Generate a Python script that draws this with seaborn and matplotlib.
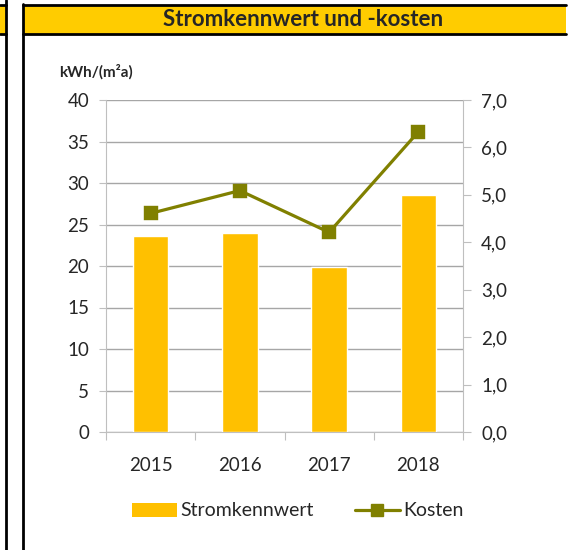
import numpy as np
import pandas as pd
import matplotlib
matplotlib.use("Agg")
import matplotlib.pyplot as plt
import seaborn as sns
from matplotlib.patches import Rectangle, Patch
from matplotlib.lines import Line2D
from matplotlib.ticker import FuncFormatter, MultipleLocator

years = ["2015", "2016", "2017", "2018"]
stromkennwert = [23.6, 24.0, 19.9, 28.5]   # kWh/(m²a)
kosten = [4.61, 5.09, 4.21, 6.33]

title = "Stromkennwert und -kosten"
unit_label = "kWh/(m²a)"

bar_col = "#FFC000"
line_col = "#808000"
grid_col = "#A6A6A6"
axis_col = "#BFBFBF"

sns.set_style("white")
plt.rcParams["font.family"] = ["Lato", "DejaVu Sans"]

W, H = 568, 550
fig = plt.figure(figsize=(W / 100, H / 100), dpi=100)

# frame pieces (pixel coords -> figure fraction)
def fx(px):
    return px / W

def fy(py):
    return 1 - py / H

# left neighbour panel strip
fig.patches.append(Rectangle((0, fy(34)), fx(6), fy(5) - fy(34), transform=fig.transFigure,
                             facecolor="#FFCC00", edgecolor="none"))
# main header
fig.patches.append(Rectangle((fx(23), fy(34)), fx(566) - fx(23), fy(5) - fy(34), transform=fig.transFigure,
                             facecolor="#FFCC00", edgecolor="none"))
for y in (5, 34):
    fig.lines.append(Line2D([0, fx(6)], [fy(y), fy(y)], transform=fig.transFigure, color="black", lw=2))
    fig.lines.append(Line2D([fx(23), fx(566)], [fy(y), fy(y)], transform=fig.transFigure, color="black", lw=2))
fig.lines.append(Line2D([fx(6), fx(6)], [0, 1], transform=fig.transFigure, color="black", lw=2))
fig.lines.append(Line2D([fx(23), fx(23)], [0, fy(4)], transform=fig.transFigure, color="black", lw=2))

fig.text(fx(303), fy(19.5), title, ha="center", va="center", fontsize=16, fontweight="bold")
fig.text(fx(59), fy(72), unit_label, ha="left", va="center", fontsize=11, fontweight="bold")

ax = fig.add_axes([fx(106), fy(432), fx(463) - fx(106), fy(100) - fy(432)])
df = pd.DataFrame({"Jahr": years, "Stromkennwert": stromkennwert, "Kosten": kosten})

sns.barplot(data=df, x="Jahr", y="Stromkennwert", ax=ax, color=bar_col, width=0.4,
            saturation=1, zorder=3)
ax.set_ylim(0, 40)
ax.yaxis.set_major_locator(MultipleLocator(5))
ax.set_xlim(-0.5, 3.5)
ax.grid(axis="y", color=grid_col, lw=1, zorder=0)
ax.set_axisbelow(True)
ax.set_xlabel("")
ax.set_ylabel("")

ax2 = ax.twinx()
sns.pointplot(data=df, x="Jahr", y="Kosten", ax=ax2, color=line_col, markers="s",
              linestyles="-", markersize=8, linewidth=2.3)
ax2.set_ylim(0, 7)
ax2.yaxis.set_major_locator(MultipleLocator(1))
ax2.yaxis.set_major_formatter(FuncFormatter(lambda v, p: f"{v:.1f}".replace(".", ",")))
ax2.set_xlim(-0.5, 3.5)
ax2.set_ylabel("")
ax2.set_xlabel("")

for a in (ax, ax2):
    for s in a.spines.values():
        s.set_visible(False)
ax.spines["left"].set_visible(True)
ax.spines["left"].set_color(axis_col)
ax.spines["bottom"].set_visible(True)
ax.spines["bottom"].set_color(axis_col)
ax2.spines["right"].set_visible(True)
ax2.spines["right"].set_color(axis_col)

ax.tick_params(axis="y", length=5, color=axis_col, labelsize=13.5, pad=7, left=True)
ax2.tick_params(axis="y", length=6, color=axis_col, labelsize=13.5, pad=7, right=True)
# x ticks at category boundaries, labels centred
ax.set_xticks(np.arange(len(years) + 1) - 0.5)
ax.set_xticklabels([])
ax.set_xticks(np.arange(len(years)), minor=True)
ax.set_xticklabels(years, minor=True)
ax.tick_params(axis="x", which="major", length=6, color=axis_col, bottom=True)
ax.tick_params(axis="x", which="minor", length=0, labelsize=13.5, pad=18)

handles = [Patch(facecolor=bar_col, edgecolor="none", label="Stromkennwert"),
           Line2D([], [], color=line_col, lw=2.3, marker="s", markersize=8, label="Kosten")]
fig.legend(handles=handles, loc="center", bbox_to_anchor=(fx(298), fy(511)), ncol=2,
           frameon=False, fontsize=14, handlelength=2.3, columnspacing=2.1, handletextpad=0.2)

fig.savefig("out.png", dpi=100)
